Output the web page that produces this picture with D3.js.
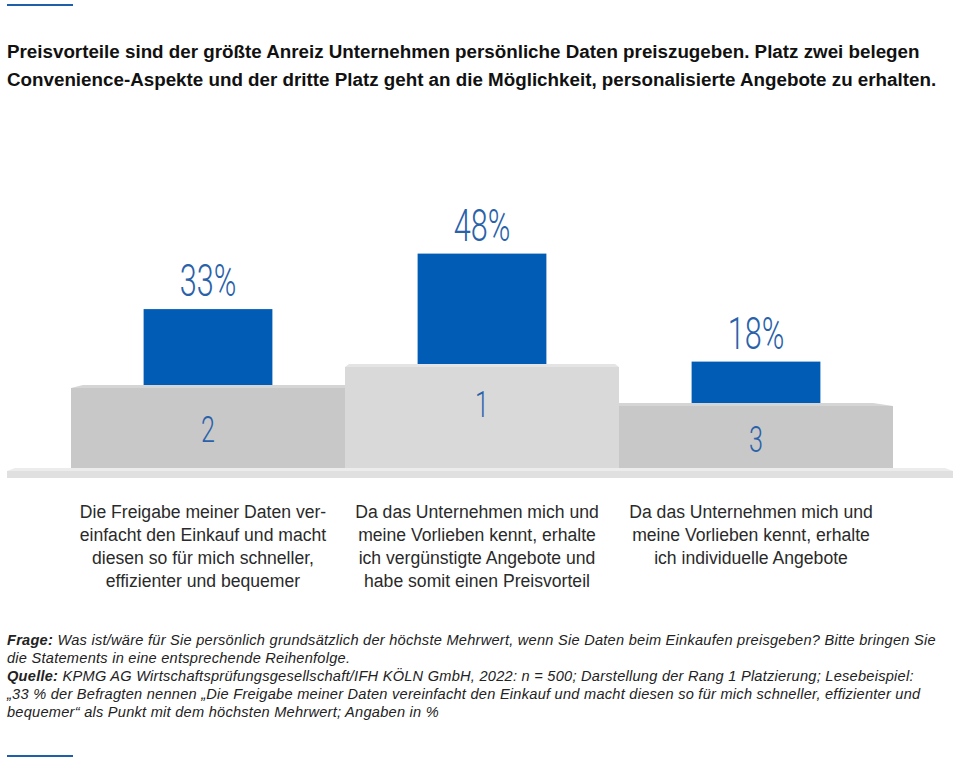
<!DOCTYPE html>
<html><head><meta charset="utf-8">
<script src="https://cdn.jsdelivr.net/npm/d3@7"></script>
<style>body{margin:0;background:#fff;} svg{display:block}</style>
</head><body>
<script>
// ---- data ----
const categories = ["Freigabe vereinfacht Einkauf", "Vergünstigte Angebote", "Individuelle Angebote"];
const values = [33, 48, 18];
const ranks = [2, 1, 3];
const categoryLabelLines = [
  ["Die Freigabe meiner Daten ver-", "einfacht den Einkauf und macht", "diesen so für mich schneller,", "effizienter und bequemer"],
  ["Da das Unternehmen mich und", "meine Vorlieben kennt, erhalte", "ich vergünstigte Angebote und", "habe somit einen Preisvorteil"],
  ["Da das Unternehmen mich und", "meine Vorlieben kennt, erhalte", "ich individuelle Angebote"]
];
const titleLines = [
  "Preisvorteile sind der größte Anreiz Unternehmen persönliche Daten preiszugeben. Platz zwei belegen",
  "Convenience-Aspekte und der dritte Platz geht an die Möglichkeit, personalisierte Angebote zu erhalten."
];
const footnoteLines = [
  ["Frage:", " Was ist/wäre für Sie persönlich grundsätzlich der höchste Mehrwert, wenn Sie Daten beim Einkaufen preisgeben? Bitte bringen Sie"],
  ["", "die Statements in eine entsprechende Reihenfolge."],
  ["Quelle:", " KPMG AG Wirtschaftsprüfungsgesellschaft/IFH KÖLN GmbH, 2022: n = 500; Darstellung der Rang 1 Platzierung; Lesebeispiel:"],
  ["", "„33 % der Befragten nennen „Die Freigabe meiner Daten vereinfacht den Einkauf und macht diesen so für mich schneller, effizienter und"],
  ["", "bequemer“ als Punkt mit dem höchsten Mehrwert; Angaben in %"]
];

// ---- layout ----
const W = 973, H = 768;
const blue = "#005cb5", textBlue = "#2a62aa";
const sans = "'Liberation Sans', Arial, Helvetica, sans-serif";
const svg = d3.select("body").append("svg").attr("width", W).attr("height", H);

// decorative rules
svg.append("rect").attr("x", 7).attr("y", 4).attr("width", 66).attr("height", 2).attr("fill", "#1f5ea8");
svg.append("rect").attr("x", 7).attr("y", 755).attr("width", 66).attr("height", 2).attr("fill", "#1f5ea8");

// title
svg.append("g").selectAll("text").data(titleLines).join("text")
  .attr("x", 7).attr("y", (d, i) => 58 + i * 28)
  .attr("font-family", sans)
  .attr("font-weight", "bold").attr("font-size", 18.8).attr("fill", "#111")
  .text(d => d);

const groundY = 468;
const x = d3.scaleBand().domain(categories).range([71, 893]).padding(0);
const podiumH = d3.scaleOrdinal().domain([1, 2, 3]).range([104, 83, 65]);
const rankLabelY = d3.scaleOrdinal().domain([1, 2, 3]).range([417, 442, 452]);
const barH = d3.scaleLinear().domain([0, 50]).range([0, 115]);

// ground platform
const g = svg.append("g");
g.append("polygon").attr("points", [[7, 471], [15, 468], [945, 468], [953, 471]].join(" ")).attr("fill", "#ececec");
g.append("rect").attr("x", 7).attr("y", 471).attr("width", 946).attr("height", 7).attr("fill", "#e0e0e0");

const data = categories.map((c, i) => ({ c, v: values[i], r: ranks[i], lines: categoryLabelLines[i] }));
const bevel = { 1: [4, 4], 2: [12, 0], 3: [0, 20] };
const bodyCol = { 1: "#d9d9d9", 2: "#c8c8c8", 3: "#c8c8c8" };
const topCol = { 1: "#e4e4e4", 2: "#d5d5d5", 3: "#d5d5d5" };

const pod = g.selectAll("g.pod").data(data).join("g").attr("class", "pod");
pod.append("rect")
  .attr("x", d => x(d.c)).attr("width", x.bandwidth())
  .attr("y", d => groundY - podiumH(d.r) + 3).attr("height", d => podiumH(d.r) - 3)
  .attr("fill", d => bodyCol[d.r]);
pod.append("polygon")
  .attr("points", d => {
    const x0 = x(d.c), x1 = x0 + x.bandwidth(), t = groundY - podiumH(d.r), b = bevel[d.r];
    return [[x0, t + 3], [x0 + b[0], t], [x1 - b[1], t], [x1, t + 3]].join(" ");
  })
  .attr("fill", d => topCol[d.r]);

// bars
const bw = x.bandwidth() * 0.47;
pod.append("rect")
  .attr("x", d => x(d.c) + (x.bandwidth() - bw) / 2).attr("width", bw)
  .attr("y", d => groundY - podiumH(d.r) - barH(d.v))
  .attr("height", d => barH(d.v))
  .attr("fill", blue);

const cx = d => x(d.c) + x.bandwidth() / 2;
const condensed = "Roboto, 'Liberation Sans', sans-serif";

// value labels
pod.append("text")
  .attr("transform", d => `translate(${cx(d)},${groundY - podiumH(d.r) - barH(d.v) - 13}) scale(0.68,1)`)
  .attr("text-anchor", "middle").attr("font-family", condensed).attr("font-weight", 300)
  .attr("font-size", 45).attr("fill", textBlue)
  .text(d => d.v + "%");

// rank labels
pod.append("text")
  .attr("transform", d => `translate(${cx(d)},${rankLabelY(d.r)}) scale(0.68,1)`)
  .attr("text-anchor", "middle").attr("font-family", condensed).attr("font-weight", 300)
  .attr("font-size", 37).attr("fill", textBlue)
  .text(d => d.r);

// category labels
pod.each(function (d) {
  d3.select(this).selectAll("text.cat").data(d.lines).join("text").attr("class", "cat")
    .attr("x", cx(d) - 5).attr("y", (l, j) => 518 + j * 23)
    .attr("text-anchor", "middle").attr("font-family", sans)
    .attr("font-size", 17.6).attr("fill", "#2a2a2a")
    .text(l => l);
});

// footnote
const fn = svg.append("g").selectAll("text").data(footnoteLines).join("text")
  .attr("x", 7).attr("y", (d, i) => 645 + i * 18)
  .attr("font-family", sans).attr("font-style", "italic")
  .attr("font-size", 14.6).attr("letter-spacing", 0.25).attr("fill", "#222");
fn.append("tspan").attr("font-weight", "bold").text(d => d[0]);
fn.append("tspan").text(d => d[1]);
</script>
</body></html>
